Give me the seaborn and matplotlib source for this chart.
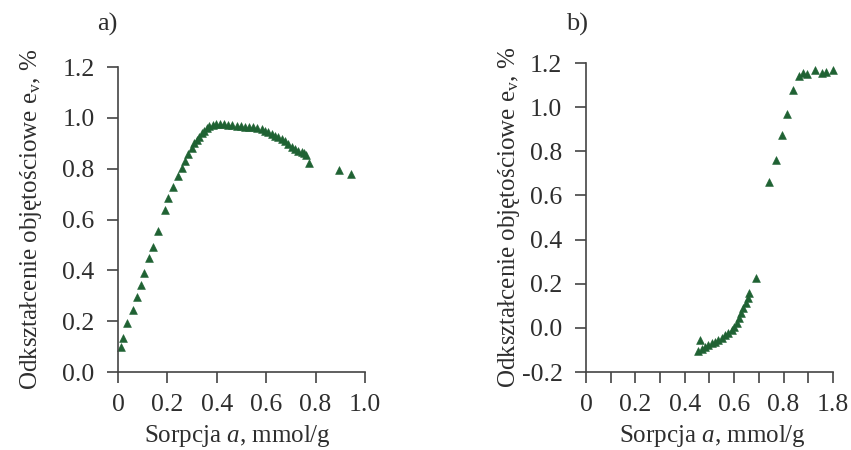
import numpy as np
import pandas as pd
import matplotlib
matplotlib.use("Agg")
import matplotlib.pyplot as plt
import seaborn as sns

# panel a) - sorption vs volumetric strain
sorp_a = [0.011, 0.019, 0.038, 0.059, 0.076, 0.092, 0.107, 0.124, 0.140, 0.163,
          0.190, 0.204, 0.224, 0.244, 0.258, 0.271, 0.285, 0.298, 0.308, 0.318,
          0.329, 0.339, 0.348, 0.359, 0.370, 0.383, 0.397, 0.413, 0.429, 0.447,
          0.463, 0.480, 0.497, 0.514, 0.532, 0.548, 0.564, 0.582, 0.595, 0.609,
          0.622, 0.636, 0.649, 0.663, 0.676, 0.690, 0.703, 0.717, 0.730, 0.744,
          0.753, 0.761, 0.775, 0.896, 0.943]
strain_a = [0.100, 0.133, 0.194, 0.244, 0.297, 0.343, 0.391, 0.448, 0.493, 0.555,
            0.638, 0.684, 0.726, 0.770, 0.802, 0.832, 0.858, 0.883, 0.900, 0.913,
            0.926, 0.940, 0.950, 0.959, 0.966, 0.971, 0.975, 0.976, 0.975, 0.972,
            0.971, 0.969, 0.966, 0.965, 0.963, 0.962, 0.959, 0.955, 0.950, 0.943,
            0.937, 0.930, 0.924, 0.916, 0.907, 0.898, 0.887, 0.878, 0.871, 0.866,
            0.861, 0.853, 0.822, 0.793, 0.781]

# panel b)
sorp_b = [0.455, 0.462, 0.468, 0.482, 0.495, 0.509, 0.522, 0.536, 0.549, 0.563,
          0.576, 0.590, 0.601, 0.610, 0.619, 0.628, 0.637, 0.646, 0.655, 0.661,
          0.688, 0.739, 0.768, 0.792, 0.813, 0.838, 0.862, 0.880, 0.893, 0.927,
          0.954, 0.970, 0.999]
strain_b = [-0.107, -0.054, -0.097, -0.088, -0.077, -0.069, -0.062, -0.054, -0.044, -0.032,
            -0.021, -0.009, 0.006, 0.024, 0.044, 0.067, 0.089, 0.112, 0.135, 0.157,
            0.228, 0.663, 0.761, 0.876, 0.971, 1.076, 1.139, 1.154, 1.150, 1.167,
            1.154, 1.157, 1.169]

xticks_a = [0, 0.2, 0.4, 0.6, 0.8, 1.0]
xlabels_a = ["0", "0.2", "0.4", "0.6", "0.8", "1.0"]
xticks_b = [0, 0.1, 0.2, 0.3, 0.4, 0.5, 0.6, 0.7, 0.8, 0.9, 1.0]
xlabels_b = ["0", "", "0.2", "", "0.4", "", "0.6", "", "0.8", "", "1.8"]
yticks_a = [0.0, 0.2, 0.4, 0.6, 0.8, 1.0, 1.2]
yticks_b = [-0.2, 0.0, 0.2, 0.4, 0.6, 0.8, 1.0, 1.2]

df_a = pd.DataFrame({"x": sorp_a, "y": strain_a})
df_b = pd.DataFrame({"x": sorp_b, "y": strain_b})

sns.set_style("ticks")
plt.rcParams["font.family"] = ["Liberation Serif", "DejaVu Serif"]
plt.rcParams["mathtext.fontset"] = "custom"
plt.rcParams["mathtext.rm"] = "Liberation Serif"
plt.rcParams["mathtext.it"] = "Liberation Serif:italic"

green = "#1f6233"
axis_col = "#444444"
text_col = "#2e2e2e"

fig = plt.figure(figsize=(8.51, 4.5), dpi=100)
ax1 = fig.add_axes([0.1387, 0.1733, 0.2902, 0.6778])
ax2 = fig.add_axes([0.6886, 0.1733, 0.2902, 0.6867])

for ax, df in [(ax1, df_a), (ax2, df_b)]:
    sns.scatterplot(data=df, x="x", y="y", marker="^", s=32, color=green,
                    edgecolor=green, linewidth=0.4, ax=ax, clip_on=False)
    sns.despine(ax=ax)
    ax.spines["left"].set_color(axis_col)
    ax.spines["bottom"].set_color(axis_col)
    ax.spines["left"].set_linewidth(1.2)
    ax.spines["bottom"].set_linewidth(1.2)
    ax.tick_params(direction="out", length=8, width=1.2, color=axis_col,
                   labelsize=18.5, labelcolor=text_col)
    ax.tick_params(axis="x", pad=8)
    ax.tick_params(axis="y", pad=9)
    ax.set_xlabel(r"Sorpcja $a$, mmol/g", fontsize=18, color=text_col)
    ax.set_ylabel(r"Odkształcenie objętościowe e$_\mathrm{v}$, %", fontsize=18,
                  color=text_col)

ax1.set_xlim(0, 1.0)
ax1.set_ylim(0, 1.2)
ax1.set_xticks(xticks_a)
ax1.set_xticklabels(xlabels_a)
ax1.set_yticks(yticks_a)
ax1.set_yticklabels([f"{v:.1f}" for v in yticks_a])
ax1.xaxis.set_label_coords(0.484, -0.166)
ax1.yaxis.set_label_coords(-0.30, 0.5)

ax2.set_xlim(0, 1.0)
ax2.set_ylim(-0.2, 1.2)
ax2.set_xticks(xticks_b)
ax2.set_xticklabels(xlabels_b)
ax2.set_yticks(yticks_b)
ax2.set_yticklabels([f"{v:.1f}".replace("\u2212", "-") for v in yticks_b])
ax2.xaxis.set_label_coords(0.512, -0.164)
ax2.yaxis.set_label_coords(-0.259, 0.5)

fig.text(0.126, 0.945, "a)", fontsize=19, color=text_col, ha="center", va="center")
fig.text(0.678, 0.945, "b)", fontsize=19, color=text_col, ha="center", va="center")

fig.savefig("out.png", dpi=100, facecolor="white")
